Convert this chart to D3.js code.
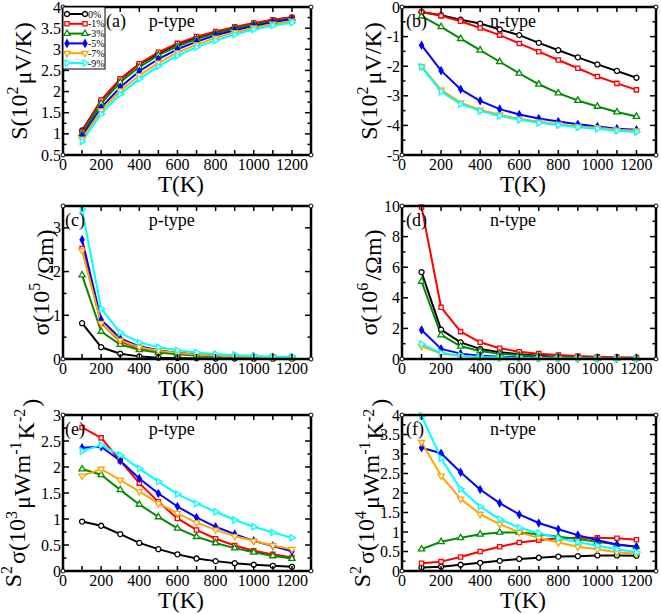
<!DOCTYPE html>
<html>
<head>
<meta charset="utf-8">
<script src="https://cdn.jsdelivr.net/npm/d3@7"></script>
<style>
body { margin: 0; background: #fff; }
svg text { font-family: "Liberation Serif", "Times New Roman", "DejaVu Serif", serif; fill: #000; }
</style>
</head>
<body>
<svg id="chart" width="661" height="614" font-family="Liberation Serif, serif"></svg>
<script>
// temperatures (K) shared by every panel
var temps = [100, 200, 300, 400, 500, 600, 700, 800, 900, 1000, 1100, 1200];
var strains = ["0%", "-1%", "-3%", "-5%", "-7%", "-9%"];
var xTickLabels = [0, 200, 400, 600, 800, 1000, 1200];

// (a) Seebeck p-type, 10^2 uV/K
var seebeckP = [
    [1.08, 1.79, 2.28, 2.65, 2.90, 3.12, 3.28, 3.40, 3.51, 3.61, 3.69, 3.75],
    [1.05, 1.80, 2.30, 2.66, 2.93, 3.14, 3.30, 3.42, 3.53, 3.62, 3.70, 3.76],
    [1.00, 1.72, 2.22, 2.58, 2.86, 3.07, 3.24, 3.37, 3.49, 3.58, 3.66, 3.73],
    [0.95, 1.62, 2.10, 2.48, 2.77, 3.00, 3.18, 3.33, 3.45, 3.55, 3.64, 3.71],
    [0.88, 1.55, 2.02, 2.38, 2.68, 2.92, 3.11, 3.27, 3.40, 3.51, 3.60, 3.67],
    [0.82, 1.47, 1.94, 2.30, 2.60, 2.85, 3.05, 3.21, 3.35, 3.47, 3.56, 3.63]
];
// (b) Seebeck n-type
var seebeckN = [
    [-0.17, -0.28, -0.43, -0.56, -0.76, -0.95, -1.21, -1.46, -1.70, -1.94, -2.16, -2.39],
    [-0.17, -0.30, -0.48, -0.71, -0.95, -1.23, -1.51, -1.79, -2.07, -2.35, -2.58, -2.80],
    [-0.31, -0.67, -1.07, -1.46, -1.85, -2.24, -2.61, -2.91, -3.16, -3.36, -3.55, -3.70],
    [-1.29, -2.15, -2.78, -3.17, -3.45, -3.63, -3.77, -3.87, -3.96, -4.04, -4.11, -4.15],
    [-2.00, -2.80, -3.23, -3.48, -3.64, -3.78, -3.88, -3.96, -4.04, -4.08, -4.15, -4.18],
    [-2.02, -2.86, -3.28, -3.51, -3.68, -3.81, -3.91, -3.99, -4.06, -4.11, -4.18, -4.22]
];
// (c) conductivity p-type, 10^5 /Ohm m
var sigmaP = [
    [0.82, 0.27, 0.12, 0.06, 0.03, 0.02, 0.015, 0.01, 0.01, 0.008, 0.006, 0.005],
    [2.53, 0.82, 0.40, 0.25, 0.18, 0.13, 0.10, 0.08, 0.06, 0.05, 0.04, 0.03],
    [1.92, 0.63, 0.33, 0.21, 0.15, 0.11, 0.08, 0.06, 0.05, 0.04, 0.03, 0.02],
    [2.73, 0.90, 0.47, 0.29, 0.20, 0.14, 0.11, 0.08, 0.06, 0.05, 0.04, 0.03],
    [2.48, 0.82, 0.43, 0.27, 0.19, 0.14, 0.10, 0.08, 0.06, 0.05, 0.04, 0.03],
    [3.42, 1.15, 0.60, 0.38, 0.27, 0.20, 0.15, 0.11, 0.09, 0.07, 0.05, 0.05]
];
// (d) conductivity n-type, 10^6 /Ohm m
var sigmaN = [
    [5.68, 1.92, 1.09, 0.66, 0.44, 0.31, 0.22, 0.15, 0.11, 0.09, 0.07, 0.05],
    [9.93, 3.38, 1.79, 1.09, 0.70, 0.48, 0.35, 0.26, 0.20, 0.15, 0.11, 0.09],
    [5.07, 1.57, 0.83, 0.52, 0.35, 0.24, 0.17, 0.13, 0.09, 0.07, 0.06, 0.05],
    [1.90, 0.66, 0.35, 0.22, 0.15, 0.11, 0.08, 0.06, 0.05, 0.04, 0.03, 0.03],
    [0.83, 0.35, 0.20, 0.11, 0.08, 0.06, 0.04, 0.03, 0.03, 0.02, 0.02, 0.02],
    [0.98, 0.39, 0.22, 0.13, 0.09, 0.07, 0.05, 0.04, 0.03, 0.03, 0.02, 0.02]
];
// (e) power factor p-type, 10^3 uW m^-1 K^-2
var powerP = [
    [0.95, 0.87, 0.71, 0.54, 0.42, 0.32, 0.24, 0.19, 0.15, 0.12, 0.10, 0.08],
    [2.76, 2.56, 2.12, 1.69, 1.33, 1.01, 0.79, 0.62, 0.49, 0.39, 0.32, 0.26],
    [1.96, 1.85, 1.56, 1.28, 1.04, 0.82, 0.66, 0.54, 0.44, 0.36, 0.29, 0.24],
    [2.37, 2.39, 2.12, 1.78, 1.49, 1.24, 1.03, 0.85, 0.71, 0.58, 0.48, 0.38],
    [1.83, 1.96, 1.75, 1.53, 1.30, 1.11, 0.93, 0.79, 0.67, 0.58, 0.49, 0.42],
    [2.31, 2.42, 2.23, 1.97, 1.72, 1.48, 1.30, 1.14, 0.98, 0.85, 0.74, 0.64]
];
// (f) power factor n-type, 10^4 uW m^-1 K^-2
var powerN = [
    [0.09, 0.11, 0.16, 0.21, 0.26, 0.31, 0.34, 0.37, 0.38, 0.40, 0.40, 0.39],
    [0.20, 0.24, 0.36, 0.50, 0.62, 0.73, 0.79, 0.84, 0.85, 0.85, 0.84, 0.80],
    [0.56, 0.75, 0.85, 0.94, 0.99, 0.99, 0.94, 0.88, 0.82, 0.75, 0.68, 0.62],
    [3.16, 3.02, 2.53, 2.09, 1.74, 1.45, 1.23, 1.07, 0.92, 0.79, 0.68, 0.62],
    [3.30, 2.44, 1.85, 1.46, 1.20, 0.99, 0.85, 0.73, 0.62, 0.56, 0.48, 0.44],
    [3.98, 2.89, 2.10, 1.65, 1.33, 1.11, 0.97, 0.84, 0.74, 0.65, 0.56, 0.48]
];

var colors = ["#000000", "#ff0000", "#008b00", "#0000ff", "#ffa500", "#00ffff"],
    svg = d3.select("#chart"),
    // panel frames and per-panel axis setup
    panels = [
        {data: seebeckP, x0: 63, x1: 311, y0: 7, y1: 155, yDomain: [0.5, 4], major: 0.5, minor: 0.25,
         tag: "(a)", tagX: 106, kind: "p-type", titleOff: 36, title: [["S(10"], ["2", 1], ["\u03bcV/K)"]], legend: true},
        {data: seebeckN, x0: 402, x1: 656, y0: 7, y1: 155, yDomain: [-5, 0], major: 1, minor: 0.5,
         tag: "(b)", tagX: 406, kind: "n-type", titleOff: 25, title: [["S(10"], ["2", 1], ["\u03bcV/K)"]]},
        {data: sigmaP, x0: 63, x1: 311, y0: 206, y1: 359, yDomain: [0, 3.5], major: 1, minor: 0.5,
         tag: "(c)", tagX: 65, kind: "p-type", titleOff: 14, title: [["\u03c3(10"], ["5", 1], ["/\u03a9m)"]]},
        {data: sigmaN, x0: 402, x1: 656, y0: 206, y1: 359, yDomain: [0, 10], major: 2, minor: 1,
         tag: "(d)", tagX: 406, kind: "n-type", titleOff: 25, title: [["\u03c3(10"], ["6", 1], ["/\u03a9m)"]]},
        {data: powerP, x0: 63, x1: 311, y0: 415, y1: 571, yDomain: [0, 3], major: 0.5, minor: 0.25,
         tag: "(e)", tagX: 65, kind: "p-type", titleOff: 42,
         title: [["S"], ["2", 1], ["\u03c3(10"], ["3", 1], ["\u03bcWm"], ["-1", 1], ["K"], ["-2", 1], [")"]]},
        {data: powerN, x0: 402, x1: 656, y0: 415, y1: 571, yDomain: [0, 4], major: 0.5, minor: 0.25,
         tag: "(f)", tagX: 406, kind: "n-type", titleOff: 32,
         title: [["S"], ["2", 1], ["\u03c3(10"], ["4", 1], ["\u03bcWm"], ["-1", 1], ["K"], ["-2", 1], [")"]]}
    ];

var _marker = function _marker(sel, i) {
    var shapes = [d3.symbolCircle, d3.symbolSquare, d3.symbolTriangle, d3.symbolDiamond, d3.symbolTriangle, d3.symbolTriangle],
        sizes = [20, 18, 17, 14, 17, 17],
        rot = [0, 0, 0, 0, 180, 90];
    sel.append("path")
        .attr("d", d3.symbol().type(shapes[i]).size(sizes[i]))
        .attr("transform", "rotate(" + rot[i] + ")")
        .attr("fill", i === 3 ? colors[i] : "#fff")
        .attr("stroke", colors[i])
        .attr("stroke-width", 1.3);
};

var _title = function _title(g, parts) {
    parts.forEach(function(p) {
        var t = g.append("tspan").text(p[0]);
        if (p[1]) {
            t.attr("dy", "-0.55em").attr("font-size", "16px");
            g.append("tspan").attr("dy", "0.55em").text("\u200a");
        }
    });
};

var _drawPanel = function _drawPanel(p) {
    var x = d3.scaleLinear().domain([0, 1300]).range([p.x0, p.x1]),
        y = d3.scaleLinear().domain(p.yDomain).range([p.y1, p.y0]),
        g = svg.append("g"),
        n = Math.round((p.yDomain[1] - p.yDomain[0]) / p.minor),
        yTicks = d3.range(n + 1).map(function(k) { return +(p.yDomain[0] + k * p.minor).toFixed(3); }),
        xTicks = d3.range(100, 1300, 100);

    // series lines + markers
    p.data.forEach(function(vals, i) {
        var pts = temps.map(function(t, k) { return [t, vals[k]]; });
        g.append("path")
            .datum(pts)
            .attr("fill", "none")
            .attr("stroke", colors[i])
            .attr("stroke-width", 2)
            .attr("stroke-linejoin", "round")
            .attr("d", d3.line().x(function(d) { return x(d[0]); }).y(function(d) { return y(d[1]); }));
    });
    p.data.forEach(function(vals, i) {
        temps.forEach(function(t, k) {
            var m = g.append("g").attr("transform", "translate(" + x(t) + "," + y(vals[k]) + ")");
            _marker(m, i);
        });
    });

    // inward ticks on all four sides
    var tk = g.append("g").attr("stroke", "#000").attr("stroke-width", 1.5);
    xTicks.forEach(function(v) {
        tk.append("line").attr("x1", x(v)).attr("x2", x(v)).attr("y1", p.y1).attr("y2", p.y1 - 5);
        tk.append("line").attr("x1", x(v)).attr("x2", x(v)).attr("y1", p.y0).attr("y2", p.y0 + 5);
    });
    yTicks.forEach(function(v) {
        var isMajor = Math.abs(v / p.major - Math.round(v / p.major)) < 1e-6,
            len = isMajor ? 6 : 3.5;
        tk.append("line").attr("x1", p.x0).attr("x2", p.x0 + len).attr("y1", y(v)).attr("y2", y(v));
        tk.append("line").attr("x1", p.x1).attr("x2", p.x1 - len).attr("y1", y(v)).attr("y2", y(v));
        if (isMajor) {
            g.append("text")
                .attr("x", p.x0 - 2).attr("y", y(v) + 5.5)
                .attr("text-anchor", "end")
                .attr("font-size", "16px")
                .text(String(v));
        }
    });
    xTickLabels.forEach(function(v) {
        g.append("text")
            .attr("x", x(v)).attr("y", p.y1 + 15)
            .attr("text-anchor", "middle")
            .attr("font-size", "16px")
            .text(v);
    });

    // frame with xmgrace-like corner dots
    g.append("rect")
        .attr("x", p.x0).attr("y", p.y0)
        .attr("width", p.x1 - p.x0).attr("height", p.y1 - p.y0)
        .attr("fill", "none").attr("stroke", "#000").attr("stroke-width", 2.5);
    [[p.x0, p.y0], [p.x1, p.y0], [p.x0, p.y1], [p.x1, p.y1]].forEach(function(c) {
        g.append("circle").attr("cx", c[0]).attr("cy", c[1]).attr("r", 2)
            .attr("fill", "#fff").attr("stroke", "#000").attr("stroke-width", 1);
    });

    g.append("text")
        .attr("x", (p.x0 + p.x1) / 2 - 6).attr("y", p.y1 + 37)
        .attr("text-anchor", "middle")
        .attr("font-size", "23px")
        .text("T(K)");

    var yt = g.append("text")
        .attr("transform", "translate(" + (p.x0 - p.titleOff) + "," + ((p.y0 + p.y1) / 2) + ") rotate(-90)")
        .attr("text-anchor", "middle")
        .attr("font-size", "24px");
    _title(yt, p.title);

    g.append("text").attr("x", p.tagX).attr("y", p.y0 + 20).attr("font-size", "18px").text(p.tag);
    g.append("text").attr("x", x(450)).attr("y", p.y0 + 20).attr("font-size", "18px").text(p.kind);

    if (p.legend) {
        var lg = g.append("g");
        lg.append("rect")
            .attr("x", p.x0).attr("y", p.y0)
            .attr("width", 42).attr("height", 62)
            .attr("fill", "#fff").attr("stroke", "#000").attr("stroke-width", 1);
        strains.forEach(function(s, i) {
            var ly = p.y0 + 7 + i * 9.8;
            lg.append("line")
                .attr("x1", p.x0 + 4).attr("x2", p.x0 + 22)
                .attr("y1", ly).attr("y2", ly)
                .attr("stroke", colors[i]).attr("stroke-width", 2);
            _marker(lg.append("g").attr("transform", "translate(" + (p.x0 + 4) + "," + ly + ")"), i);
            _marker(lg.append("g").attr("transform", "translate(" + (p.x0 + 22) + "," + ly + ")"), i);
            lg.append("text")
                .attr("x", p.x0 + 25).attr("y", ly + 3.5)
                .attr("font-size", "10px")
                .text(s);
        });
    }
};

panels.forEach(_drawPanel);
</script>
</body>
</html>
